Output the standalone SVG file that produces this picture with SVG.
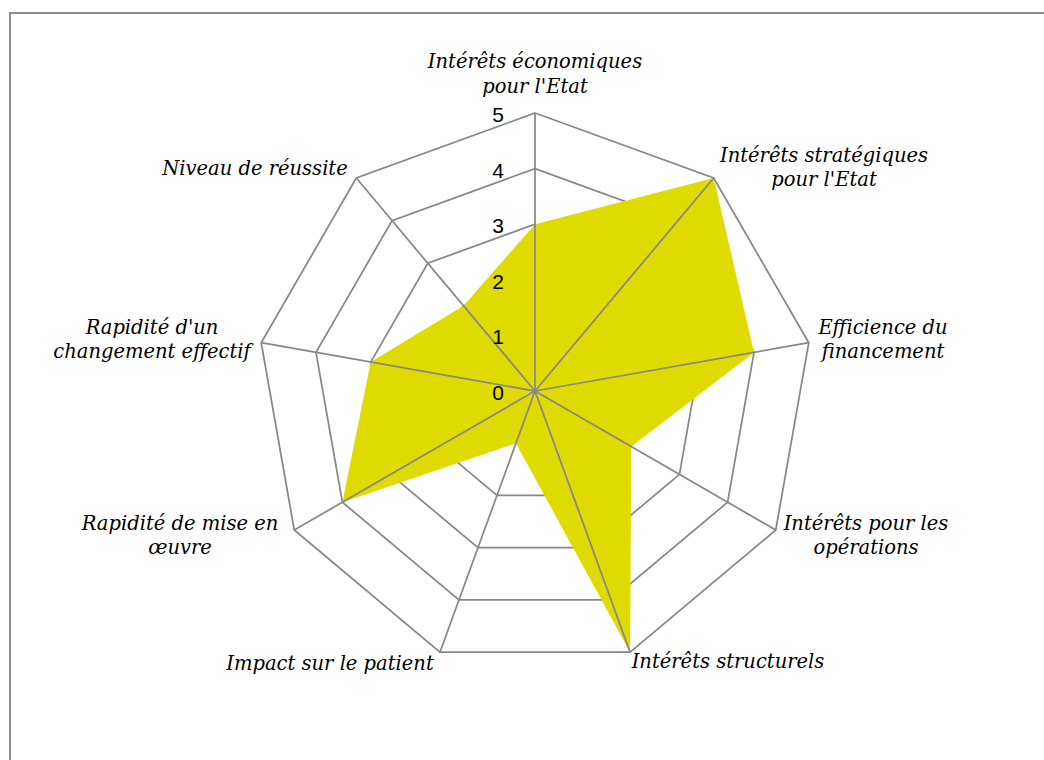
<svg xmlns="http://www.w3.org/2000/svg" width="1044" height="760" viewBox="0 0 1044 760">
<style>
.bg{fill:#ffffff}
.frame{fill:none;stroke:#8c8c8c;stroke-width:2}
.ring{fill:none;stroke:#888888;stroke-width:1.75;stroke-linejoin:miter}
.spoke{stroke:#888888;stroke-width:1.75}
.data{fill:#dfda00;stroke:none}
.lbl{font-family:"DejaVu Serif","Liberation Serif",serif;font-style:italic;font-size:19.5px;fill:#000000;text-anchor:middle}
.tick{font-family:"Liberation Sans","Open Sans",sans-serif;font-size:21px;fill:#000;text-anchor:middle}
</style>
<rect class="bg" x="0" y="0" width="1044" height="760"/>
<path class="frame" d="M10 760 V13 H1044"/>
<g id="grid">
<polygon class="ring" points="535,335.4 570.74,348.41 589.76,381.35 583.15,418.8 554.02,443.25 515.98,443.25 486.85,418.8 480.24,381.35 499.26,348.41"/>
<polygon class="ring" points="535,279.8 606.48,305.82 644.51,371.69 631.3,446.6 573.03,495.49 496.97,495.49 438.7,446.6 425.49,371.69 463.52,305.82"/>
<polygon class="ring" points="535,224.2 642.22,263.22 699.27,362.04 679.45,474.4 592.05,547.74 477.95,547.74 390.55,474.4 370.73,362.04 427.78,263.22"/>
<polygon class="ring" points="535,168.6 677.96,220.63 754.02,352.38 727.6,502.2 611.07,599.99 458.93,599.99 342.4,502.2 315.98,352.38 392.04,220.63"/>
<polygon class="ring" points="535,113 713.69,178.04 808.78,342.73 775.75,530 630.08,652.23 439.92,652.23 294.25,530 261.22,342.73 356.31,178.04"/>
</g>
<g id="series">
<polygon class="data" points="535,224.2 713.69,178.04 754.02,352.38 631.3,446.6 630.08,652.23 515.98,443.25 342.4,502.2 370.73,362.04 463.52,305.82"/>
</g>
<g id="connectors">
<line class="spoke" x1="535" y1="391" x2="535" y2="113"/>
<line class="spoke" x1="535" y1="391" x2="713.69" y2="178.04"/>
<line class="spoke" x1="535" y1="391" x2="808.78" y2="342.73"/>
<line class="spoke" x1="535" y1="391" x2="775.75" y2="530"/>
<line class="spoke" x1="535" y1="391" x2="630.08" y2="652.23"/>
<line class="spoke" x1="535" y1="391" x2="439.92" y2="652.23"/>
<line class="spoke" x1="535" y1="391" x2="294.25" y2="530"/>
<line class="spoke" x1="535" y1="391" x2="261.22" y2="342.73"/>
<line class="spoke" x1="535" y1="391" x2="356.31" y2="178.04"/>
</g>
<g id="ticks">
<text class="tick" x="498" y="400">0</text>
<text class="tick" x="498" y="344.4">1</text>
<text class="tick" x="498" y="288.8">2</text>
<text class="tick" x="498" y="233.2">3</text>
<text class="tick" x="498" y="177.6">4</text>
<text class="tick" x="498" y="122">5</text>
</g>
<g id="axis-economiques"><text class="lbl" x="535" y="68">Intérêts économiques</text><text class="lbl" x="535" y="93">pour l'Etat</text></g>
<g id="axis-strategiques"><text class="lbl" x="824" y="162">Intérêts stratégiques</text><text class="lbl" x="824" y="186">pour l'Etat</text></g>
<g id="axis-efficience"><text class="lbl" x="883" y="334">Efficience du</text><text class="lbl" x="883" y="358">financement</text></g>
<g id="axis-operations"><text class="lbl" x="866" y="530">Intérêts pour les</text><text class="lbl" x="866" y="554">opérations</text></g>
<g id="axis-structurels"><text class="lbl" x="728" y="668">Intérêts structurels</text></g>
<g id="axis-patient"><text class="lbl" x="330" y="670">Impact sur le patient</text></g>
<g id="axis-mise"><text class="lbl" x="180" y="530">Rapidité de mise en</text><text class="lbl" x="180" y="554">œuvre</text></g>
<g id="axis-changement"><text class="lbl" x="152" y="334">Rapidité d'un</text><text class="lbl" x="152" y="358">changement effectif</text></g>
<g id="axis-reussite"><text class="lbl" x="255" y="175">Niveau de réussite</text></g>
</svg>
